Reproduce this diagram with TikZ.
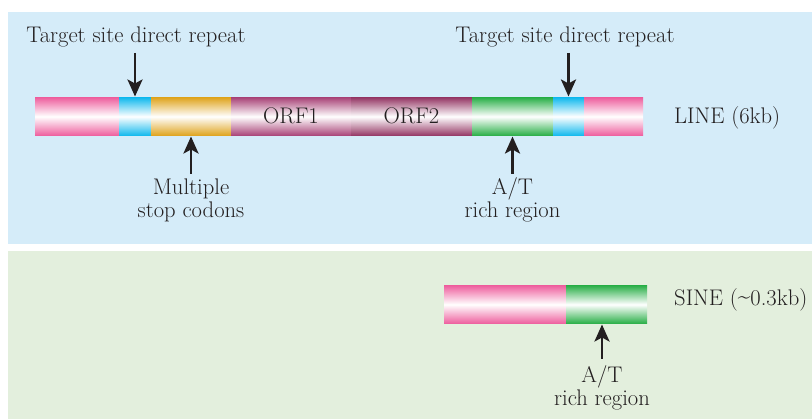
\documentclass[tikz,border=0pt]{standalone}
\usepackage{fontspec}
\usetikzlibrary{arrows.meta,positioning}
\definecolor{bgblue}{HTML}{D5ECF9}
\definecolor{bggreen}{HTML}{E3EFDD}
\definecolor{cpink}{HTML}{EE5F9E}
\definecolor{ccyan}{HTML}{12B9EE}
\definecolor{cgold}{HTML}{DFA41E}
\definecolor{corfa}{HTML}{A94478}
\definecolor{corfb}{HTML}{953866}
\definecolor{cgreen}{HTML}{2AAF48}
\definecolor{ink}{HTML}{231F20}
\tikzset{
  seg/.style={shade, top color=#1, bottom color=#1, middle color=white,
    minimum height=38pt, inner sep=0pt, outer sep=0pt, anchor=west},
  lbl/.style={font=\fontsize{22.6}{23.5}\selectfont, text=ink, align=center, inner sep=0pt},
  arr/.style={-{Stealth[length=17pt,width=15pt,inset=4pt]}, line width=2.8pt, ink, shorten >=1pt}
}
\begin{document}
\begin{tikzpicture}[x=1pt,y=-1pt]
\useasboundingbox (0,0) rectangle (812,419);
\fill[bgblue] (8,12) rectangle (812,244);
\fill[bggreen] (8,251) rectangle (812,419);
% LINE bar
\node[seg=cpink, minimum width=84pt] (p1) at (35,116.5) {};
\node[seg=ccyan, minimum width=32pt] (b1) at (p1.east) {};
\node[seg=cgold, minimum width=80pt] (g1) at (b1.east) {};
\node[seg=corfa, minimum width=120pt] (o1) at (g1.east) {};
\node[seg=corfb, minimum width=121pt] (o2) at (o1.east) {};
\node[seg=cgreen, minimum width=81pt] (a1) at (o2.east) {};
\node[seg=ccyan, minimum width=31pt] (b2) at (a1.east) {};
\node[seg=cpink, minimum width=59pt] (p2) at (b2.east) {};
\node[lbl, anchor=base] at (o1.center |- 0,124) {ORF1};
\node[lbl, anchor=base] at (o2.center |- 0,124) {ORF2};
\node[lbl, anchor=base west] (line) at (674,124) {LINE (6kb)};
% top labels
\node[lbl, anchor=base] (t1) at (136,43) {Target site direct repeat};
\node[lbl, anchor=base] (t2) at (565,43) {Target site direct repeat};
\coordinate (t1a) at (b1.center |- 0,53);
\coordinate (t2a) at (b2.center |- 0,53);
\draw[arr] (t1a) -- (b1.north);
\draw[arr] (t2a) -- (b2.north);
% bottom labels
\node[lbl, anchor=base] (ms) at (g1.center |- 0,218) {Multiple\\stop codons};
\node[lbl, anchor=base] (at1) at (a1.center |- 0,218) {A/T\\rich region};
\coordinate (msa) at (g1.center |- 0,174);
\coordinate (ata) at (a1.center |- 0,174);
\draw[arr] (msa) -- (g1.south);
\draw[arr] (ata) -- (a1.south);
% SINE bar
\node[seg=cpink, minimum width=122pt] (sp) at (444,304.5) {};
\node[seg=cgreen, minimum width=81pt] (sg) at (sp.east) {};
\node[lbl, anchor=base west] (sine) at (674,306) {SINE (\raisebox{2pt}{\textasciitilde}0.3kb)};
\node[lbl, anchor=base] (at2) at (602,406) {A/T\\rich region};
\coordinate (at2a) at (602,359);
\draw[arr] (at2a) -- (at2a |- sg.south);
\end{tikzpicture}
\end{document}
